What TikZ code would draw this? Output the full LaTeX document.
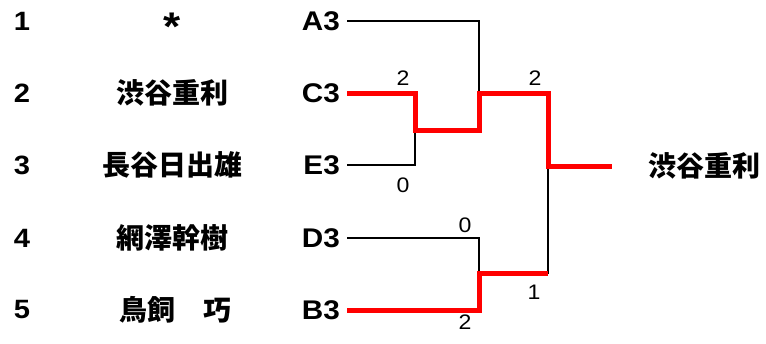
\documentclass[tikz,border=0pt]{standalone}
\usepackage{fontspec}
\setmainfont{Liberation Sans}[FakeStretch=1.1]
\newfontfamily\cjk{Noto Sans CJK JP}
\begin{document}
\begin{tikzpicture}[x=1pt,y=-1pt,
  numtxt/.style={font=\fontsize{26.5}{28}\selectfont\bfseries, inner sep=0pt},
  asttxt/.style={font=\fontsize{40}{42}\selectfont\bfseries, inner sep=0pt, anchor=north},
  pname/.style={font=\fontsize{28}{30}\selectfont\cjk\bfseries, inner sep=0pt},
  codetxt/.style={font=\fontsize{27}{29}\selectfont\bfseries, inner sep=0pt, anchor=east},
  scoretxt/.style={font=\fontsize{21}{23}\selectfont, inner sep=0pt},
  loseline/.style={draw=black, line width=2.4pt},
  winline/.style={draw=red, line width=5pt}]
\useasboundingbox (0,0) rectangle (766,343);
% left numbers
\node[numtxt] (n1) at (22,21) {1};
\node[numtxt] (n2) at (22,93) {2};
\node[numtxt] (n3) at (22,165) {3};
\node[numtxt] (n4) at (22,238) {4};
\node[numtxt] (n5) at (22,310) {5};
% names
\node[asttxt] (p1) at (172,13) {*};
\node[pname] (p2) at (172,93) {渋谷重利};
\node[pname] (p3) at (172,165) {長谷日出雄};
\node[pname] (p4) at (172,238) {網澤幹樹};
\node[pname] (p5) at (175,310) {鳥飼　巧};
% codes
\node[codetxt] (a) at (340,21) {A3};
\node[codetxt] (c) at (340,93) {C3};
\node[codetxt] (e) at (340,165) {E3};
\node[codetxt] (d) at (340,238) {D3};
\node[codetxt] (b) at (340,310) {B3};
% winner
\node[pname] (w) at (704,166) {渋谷重利};
% junction coordinates
\coordinate (ce) at (415,130);
\coordinate (top) at (479,93);
\coordinate (db) at (479,273);
\coordinate (fin) at (548,166);
\coordinate (wend) at (612,166);
% losing lines
\draw[loseline] (a.east) ++(7,0) -| (top);
\draw[loseline] (e.east) ++(7,0) -| (ce);
\draw[loseline] (d.east) ++(7,0) -| (db);
\draw[loseline] (db) -- (548,273) -- (fin);
% winning lines
\draw[winline] (c.east) ++(7,0) -| (ce) -| (top) -| (fin) -- (wend);
\draw[winline] (b.east) ++(7,0) -| (db) -- (548,273);
% scores
\node[scoretxt] (s1) at (403,78) {2};
\node[scoretxt] (s2) at (403,185) {0};
\node[scoretxt] (s3) at (535,78) {2};
\node[scoretxt] (s4) at (465,225) {0};
\node[scoretxt] (s5) at (534,292) {1};
\node[scoretxt] (s6) at (465,322) {2};
\end{tikzpicture}
\end{document}
